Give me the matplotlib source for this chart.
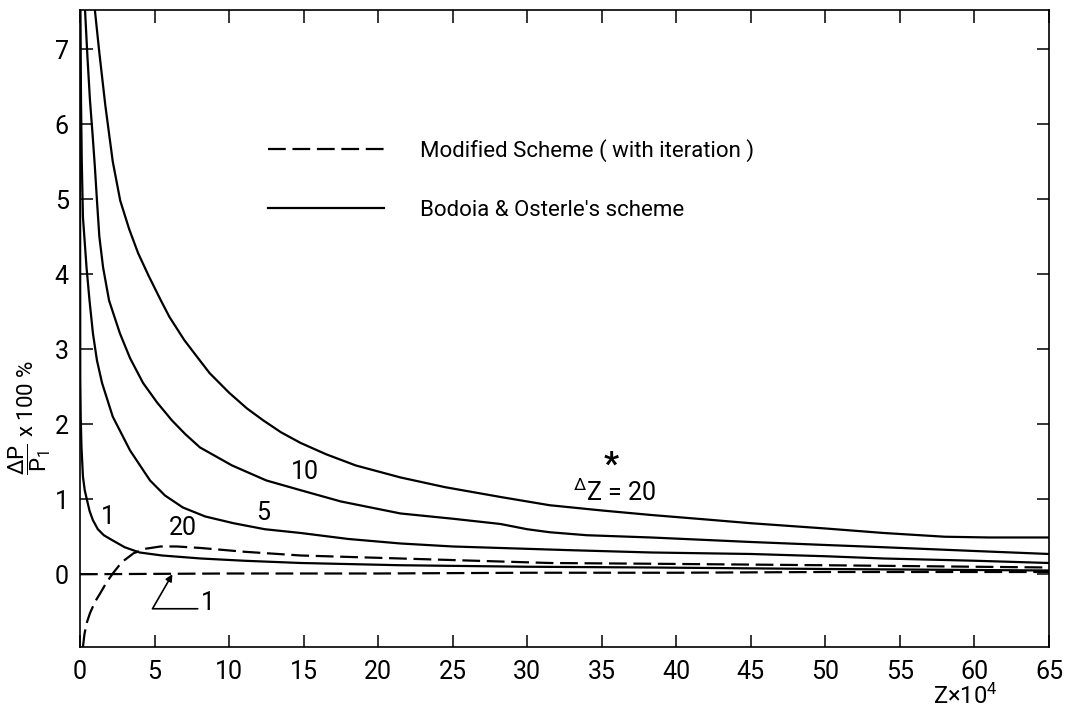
""" Pressure drop error vs axial distance for two marching schemes
    (Bodoia & Osterle's scheme and the modified scheme with iteration) """

import matplotlib
matplotlib.use('Agg')
import matplotlib.pyplot as plt

# Bodoia & Osterle's scheme (solid), one curve per step size dZ
bo_x_1 = [0.0, 0.02, 0.05, 0.1, 0.2, 0.32, 0.47, 0.65, 0.87, 1.2, 1.6, 2.2, 3.0, 4.0, 5.5, 8.1, 11,
          14.8, 21.5, 30, 38.3, 50, 65]
bo_y_1 = [7.5, 2.6, 2.1, 1.7, 1.3, 1.12, 0.99, 0.84, 0.72, 0.60, 0.52, 0.45, 0.36, 0.29, 0.25, 0.21, 0.18,
          0.15, 0.12, 0.10, 0.09, 0.07, 0.05]

bo_x_5 = [0.03, 0.07, 0.12, 0.2, 0.44, 0.64, 0.87, 1.14, 1.48, 2.2, 3.36, 4.7, 5.7, 6.9, 8.4, 10.3, 12.4,
          14.8, 18, 21.5, 25, 28.2, 33, 38.3, 45, 50, 53.9, 60, 65]
bo_y_5 = [7.52, 6.32, 5.52, 4.76, 4.09, 3.65, 3.21, 2.85, 2.55, 2.1, 1.65, 1.25, 1.05, 0.89, 0.77, 0.68, 0.60,
          0.55, 0.47, 0.41, 0.37, 0.35, 0.32, 0.29, 0.27, 0.24, 0.21, 0.18, 0.15]

bo_x_10 = [0.34, 0.5, 0.67, 0.85, 1.0, 1.15, 1.3, 1.55, 1.95, 2.68, 3.36, 4.23, 5.17, 6.17, 7.05, 8.05,
           10.2, 12.5, 14.8, 17.5, 21.5, 25, 28.2, 30, 31.5, 34, 38.3, 45, 50, 53.9, 60, 65]
bo_y_10 = [7.52, 6.9, 6.32, 5.85, 5.43, 4.95, 4.5, 4.09, 3.65, 3.21, 2.88, 2.55, 2.29, 2.05, 1.87, 1.69,
           1.45, 1.25, 1.12, 0.97, 0.81, 0.74, 0.67, 0.60, 0.56, 0.52, 0.49, 0.43, 0.39, 0.36, 0.31, 0.27]

bo_x_20 = [1.0, 1.3, 1.7, 2.2, 2.7, 3.3, 3.9, 4.6, 5.4, 6.0, 7.0, 8.0, 8.7, 10.0, 11.2, 12.3, 13.5, 14.8,
           16.5, 18.5, 21.5, 24.5, 28.2, 31.5, 35, 38.3, 42, 45, 50, 53.9, 58, 61, 65]
bo_y_20 = [7.52, 6.95, 6.25, 5.5, 4.98, 4.6, 4.28, 3.98, 3.66, 3.43, 3.12, 2.86, 2.68, 2.42, 2.21, 2.05,
           1.89, 1.75, 1.6, 1.45, 1.29, 1.16, 1.03, 0.92, 0.85, 0.79, 0.73, 0.68, 0.61, 0.55, 0.50, 0.49, 0.49]

# modified scheme with iteration (dashed)
mod_x_1 = [0, 10, 20, 30, 40, 50, 65]
mod_y_1 = [0.0, 0.01, 0.01, 0.02, 0.02, 0.03, 0.03]

mod_x_20 = [0.2, 0.3, 0.45, 0.67, 1.0, 1.34, 1.75, 2.2, 2.8, 3.6, 4.4, 5.4, 6.5, 8.1, 11, 14.8, 21.5,
            31.5, 38.3, 50, 65]
mod_y_20 = [-0.97, -0.8, -0.65, -0.52, -0.37, -0.26, -0.12, 0.01, 0.16, 0.28, 0.34, 0.37, 0.37, 0.35,
            0.30, 0.25, 0.21, 0.15, 0.14, 0.12, 0.09]

x_ticks = list(range(0, 70, 5))
y_ticks = list(range(0, 8))

FONTS = ['Roboto', 'DejaVu Sans']
plt.rcParams['font.family'] = FONTS
plt.rcParams['mathtext.fontset'] = 'custom'
plt.rcParams['mathtext.rm'] = FONTS[0]
plt.rcParams['mathtext.default'] = 'regular'

FS = 18

fig = plt.figure(figsize=(10.85, 7.10), dpi=100)
ax = fig.add_axes([0.0737, 0.0887, 0.8931, 0.8972])

lw = 1.6
dash = (8, 3)

# solid curves
ax.plot(bo_x_1, bo_y_1, color='black', lw=lw)
ax.plot(bo_x_5, bo_y_5, color='black', lw=lw)
ax.plot(bo_x_10, bo_y_10, color='black', lw=lw)
solid, = ax.plot(bo_x_20, bo_y_20, color='black', lw=lw, label="Bodoia & Osterle's scheme")

# dashed curves
ax.plot(mod_x_1, mod_y_1, color='black', lw=lw, linestyle=(0, dash))
dashed, = ax.plot(mod_x_20, mod_y_20, color='black', lw=lw, linestyle=(0, dash),
                  label='Modified Scheme ( with iteration )')

ax.set_xlim(0, 65)
ax.set_ylim(-0.97, 7.52)
ax.set_xticks(x_ticks)
ax.set_yticks(y_ticks)
ax.tick_params(direction='in', length=9, width=1.1, top=True, right=True, labelsize=FS)
ax.tick_params(axis='y', pad=8)
ax.tick_params(axis='x', pad=9)
for s in ax.spines.values():
    s.set_linewidth(1.2)

# curve labels
ax.text(1.9, 0.76, '1', fontsize=FS, ha='center', va='center')
ax.text(12.3, 0.81, '5', fontsize=FS, ha='center', va='center')
ax.text(15.1, 1.36, '10', fontsize=FS, ha='center', va='center')
ax.text(6.9, 0.61, '20', fontsize=FS, ha='center', va='center')
ax.text(33.1, 1.09, r'$^{\Delta}$Z = 20', fontsize=FS, ha='left', va='center')
ax.text(35.6, 1.45, '*', fontsize=24, ha='center', va='center', fontweight='bold')

# leader for the dashed dZ = 1 curve
ax.annotate('', xy=(6.2, 0.0), xytext=(7.9, -0.46),
            arrowprops=dict(arrowstyle='-|>', connectionstyle='angle,angleA=0,angleB=60,rad=0',
                            shrinkA=0, shrinkB=0, lw=1.2, color='black', mutation_scale=10))
ax.text(8.6, -0.38, '1', fontsize=FS, ha='center', va='center')

ax.legend(handles=[dashed, solid], loc='upper left', bbox_to_anchor=(0.194, 0.798),
          frameon=False, fontsize=16, handlelength=5.2, handletextpad=1.65,
          labelspacing=1.72, borderpad=0, borderaxespad=0)

ax.set_ylabel(r'$\dfrac{\Delta P}{P_1}$ x 100 %', fontsize=16)
ax.yaxis.set_label_coords(-0.028, 0.36)
ax.set_xlabel(r'Z$\times$10$^4$', fontsize=17)
ax.xaxis.set_label_coords(0.914, -0.057)

plt.savefig('out.png', dpi=100)
